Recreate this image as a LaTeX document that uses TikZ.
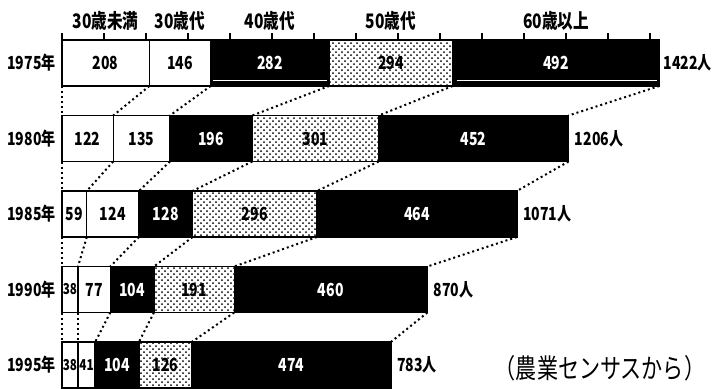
\documentclass[tikz,border=0pt]{standalone}
\usepackage{fontspec}
\setmainfont{Noto Sans CJK JP}[FakeStretch=0.78]
\usetikzlibrary{positioning, patterns}

\tikzset{
  bar/.style={draw, line width=0.7pt, inner sep=0pt, outer sep=0pt,
    minimum height=23pt, minimum width=#1*0.21pt, font=\fontsize{9}{9}\selectfont\bfseries},
  blank/.style={bar=#1, fill=white},
  dark/.style={bar=#1, fill=black, text=white},
  dotty/.style={bar=#1, pattern=crosshatch dots},
  lab/.style={inner sep=0pt, font=\fontsize{9}{9}\selectfont\bfseries},
  head/.style={lab, font=\fontsize{10}{10}\selectfont\bfseries},
  link/.style={line width=1pt, dash pattern=on 1pt off 1.5pt},
  narrow/.style={font=\fontsize{7.5}{7.5}\selectfont\bfseries},
}

\begin{document}
\begin{tikzpicture}[x=0.5pt, y=-0.5pt]
        \useasboundingbox (0,0) rectangle (714,388);
        % 1975
        \node[blank=208, anchor=west] (s75a) at (62,63) {208};
        \node[blank=146, right=0pt of s75a] (s75b) {146};
        \node[dark=282, right=0pt of s75b] (s75c) {282};
        \node[dotty=294, right=0pt of s75c] (s75d) {294};
        \node[dark=492, right=0pt of s75d] (s75e) {492};
        \node[lab, left=3pt of s75a] (y75) {1975年};
        \node[lab, right=2pt of s75e] (t75) {1422人};
        \draw[white, line width=0.5pt]
          ([xshift=1pt, yshift=3pt]s75c.south west) -- ([xshift=-1pt, yshift=3pt]s75c.south east);
        \draw[white, line width=0.5pt]
          ([xshift=2pt, yshift=3pt]s75e.south west) -- ([xshift=-1pt, yshift=3pt]s75e.south east);
        % Age groups
        \node[head, above=4.5pt of s75a] (h1) {30歳未満};
        \node[head, above=4.5pt of s75b] (h2) {30歳代};
        \node[head, above=4.5pt of s75c] (h3) {40歳代};
        \node[head, above=4.5pt of s75d] (h4) {50歳代};
        \node[head, above=4.5pt of s75e] (h5) {60歳以上};
        % Scale, one tick per 100
        \foreach \k in {0,...,14}
          \draw[line width=0.7pt] (62+42*\k,40) -- (62+42*\k,33);
        % 1980
        \node[blank=122, anchor=west] (s80a) at (62,138.5) {122};
        \node[blank=135, right=0pt of s80a] (s80b) {135};
        \node[dark=196, right=0pt of s80b] (s80c) {196};
        \node[dotty=301, right=0pt of s80c] (s80d) {301};
        \node[dark=452, right=0pt of s80d] (s80e) {452};
        \node[lab, left=3pt of s80a] (y80) {1980年};
        \node[lab, right=3pt of s80e] (t80) {1206人};
        % 1985
        \node[blank=59, anchor=west] (s85a) at (62,214) {59};
        \node[blank=124, right=0pt of s85a] (s85b) {124};
        \node[dark=128, right=0pt of s85b] (s85c) {128};
        \node[dotty=296, right=0pt of s85c] (s85d) {296};
        \node[dark=476, right=0pt of s85d] (s85e) {464};
        \node[lab, left=3pt of s85a] (y85) {1985年};
        \node[lab, right=3pt of s85e] (t85) {1071人};
        % 1990
        \node[blank=38, narrow, anchor=west] (s90a) at (62,289.5) {38};
        \node[blank=77, right=0pt of s90a] (s90b) {77};
        \node[dark=104, right=0pt of s90b] (s90c) {104};
        \node[dotty=191, right=0pt of s90c] (s90d) {191};
        \node[dark=460, right=0pt of s90d] (s90e) {460};
        \node[lab, left=3pt of s90a] (y90) {1990年};
        \node[lab, right=3pt of s90e] (t90) {870人};
        % 1995
        \node[blank=38, narrow, anchor=west] (s95a) at (62,365) {38};
        \node[blank=41, narrow, right=0pt of s95a] (s95b) {41};
        \node[dark=104, right=0pt of s95b] (s95c) {104};
        \node[dotty=126, right=0pt of s95c] (s95d) {126};
        \node[dark=474, right=0pt of s95d] (s95e) {474};
        \node[lab, left=3pt of s95a] (y95) {1995年};
        \node[lab, right=3pt of s95e] (t95) {783人};
        % Links between the years
        \draw[link] (s75a.south west) -- (s80a.north west);
        \draw[link] (s75a.south east) -- (s80a.north east);
        \draw[link] (s75b.south east) -- (s80b.north east);
        \draw[link] (s75c.south east) -- (s80c.north east);
        \draw[link] (s75d.south east) -- (s80d.north east);
        \draw[link] (s75e.south east) -- (s80e.north east);
        \draw[link] (s80a.south west) -- (s85a.north west);
        \draw[link] (s80a.south east) -- (s85a.north east);
        \draw[link] (s80b.south east) -- (s85b.north east);
        \draw[link] (s80c.south east) -- (s85c.north east);
        \draw[link] (s80d.south east) -- (s85d.north east);
        \draw[link] (s80e.south east) -- (s85e.north east);
        \draw[link] (s85a.south west) -- (s90a.north west);
        \draw[link] (s85a.south east) -- (s90a.north east);
        \draw[link] (s85b.south east) -- (s90b.north east);
        \draw[link] (s85c.south east) -- (s90c.north east);
        \draw[link] (s85d.south east) -- (s90d.north east);
        \draw[link] (s85e.south east) -- (s90e.north east);
        \draw[link] (s90a.south west) -- (s95a.north west);
        \draw[link] (s90a.south east) -- (s95a.north east);
        \draw[link] (s90b.south east) -- (s95b.north east);
        \draw[link] (s90c.south east) -- (s95c.north east);
        \draw[link] (s90d.south east) -- (s95d.north east);
        \draw[link] (s90e.south east) -- (s95e.north east);
        % Source
        \node[lab, font=\fontsize{13.5}{13.5}\selectfont] (src) at (600,368) {（農業センサスから）};
      \end{tikzpicture}
\end{document}
